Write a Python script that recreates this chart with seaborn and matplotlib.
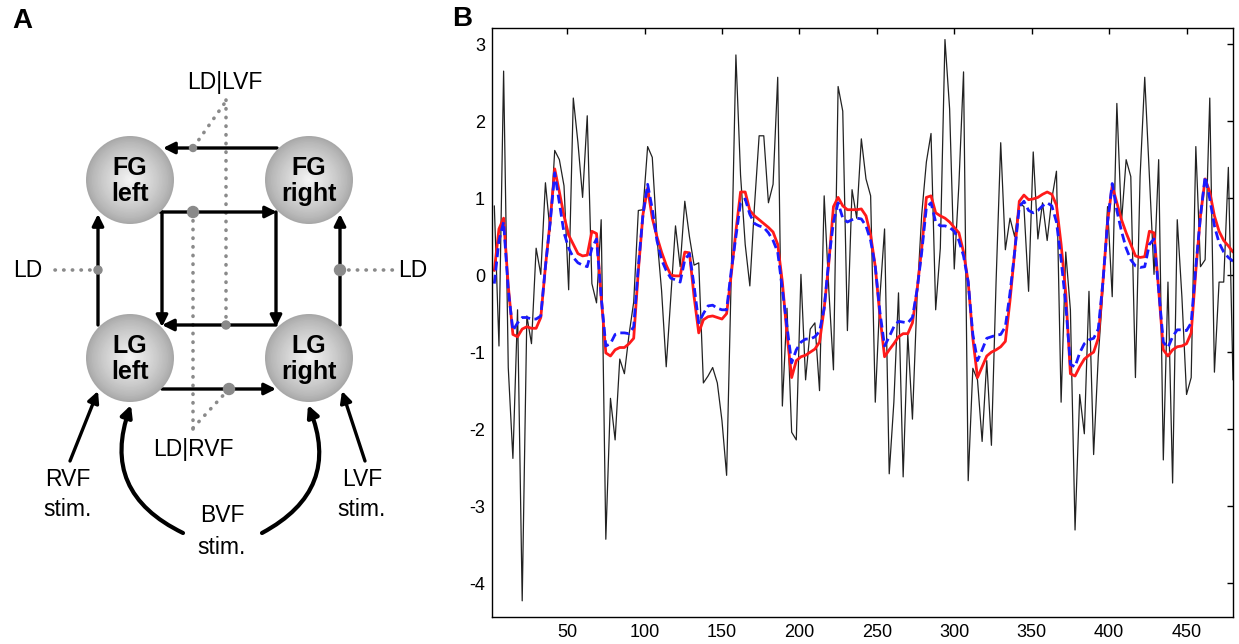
import numpy as np
import pandas as pd
import matplotlib
matplotlib.use("Agg")
import matplotlib.pyplot as plt
from matplotlib.patches import Circle, FancyArrowPatch
import seaborn as sns

# time axis: one sample every 3 units
time = np.arange(3, 481, 3)

measured = [
    0.90, -0.92, 2.65, -1.20, -2.38, -0.45, -4.23, -0.53, -0.89, 0.35,
    0.01, 1.20, 0.57, 1.62, 1.50, 1.16, -0.19, 2.30, 1.72, 1.01,
    2.07, -0.11, -0.36, 0.72, -3.43, -1.60, -2.14, -1.09, -1.28, -0.77,
    -0.35, 0.84, 0.85, 1.67, 1.53, 0.50, -0.20, -1.19, -0.28, 0.64,
    0.11, 0.96, 0.50, 0.13, 0.16, -1.40, -1.31, -1.20, -1.40, -1.89,
    -2.60, 0.00, 2.86, 1.30, 0.40, -0.14, 0.90, 1.81, 1.81, 0.94,
    1.18, 2.57, -1.70, -0.43, -2.04, -2.14, 0.01, -1.36, -0.70, -0.62,
    -1.50, 1.03, -0.19, -1.23, 2.45, 2.13, -0.72, 1.11, 0.74, 1.77,
    1.25, 1.03, -1.65, -0.28, 0.60, -2.58, -1.65, -0.23, -2.62, -0.77,
    -1.87, -0.28, 0.79, 1.47, 1.84, -0.45, 0.35, 3.06, 2.16, 0.08,
    1.18, 2.64, -2.67, -1.21, -1.36, -2.16, -1.11, -2.21, -0.09, 1.72,
    0.33, 0.74, 0.50, 0.94, 0.89, -0.21, 1.60, 0.47, 0.94, 0.45,
    0.99, 1.35, -1.65, 0.30, -0.45, -3.31, -1.55, -2.06, -0.21, -2.33,
    -1.06, -0.19, 0.89, -0.28, 2.23, 0.69, 1.50, 1.28, -1.33, 1.28,
    2.57, 1.28, 0.01, 1.50, -2.40, -0.09, -2.70, 0.72, -0.28, -1.55,
    -1.33, 1.67, 0.11, 0.20, 2.30, -1.26, -0.09, -0.09, 1.40, -1.36,
]

model_red = [
    0.06, 0.60, 0.74, -0.14, -0.77, -0.80, -0.70, -0.67, -0.69, -0.69,
    -0.55, 0.11, 0.69, 1.38, 1.08, 0.77, 0.52, 0.40, 0.28, 0.25,
    0.26, 0.57, 0.54, -0.28, -1.01, -1.05, -0.97, -0.94, -0.94, -0.89,
    -0.82, 0.06, 0.79, 1.13, 0.74, 0.50, 0.30, 0.13, 0.00, -0.01,
    -0.01, 0.30, 0.29, -0.28, -0.75, -0.58, -0.54, -0.53, -0.55, -0.57,
    -0.50, 0.01, 0.57, 1.08, 1.08, 0.84, 0.77, 0.72, 0.67, 0.62,
    0.56, 0.40, -0.09, -0.77, -1.33, -1.11, -1.06, -1.04, -1.00, -0.96,
    -0.87, -0.43, 0.16, 0.89, 1.01, 0.90, 0.85, 0.85, 0.85, 0.86,
    0.77, 0.52, 0.11, -0.53, -1.06, -0.97, -0.89, -0.80, -0.76, -0.76,
    -0.62, -0.19, 0.35, 1.01, 1.03, 0.81, 0.77, 0.74, 0.69, 0.62,
    0.55, 0.30, -0.09, -0.82, -1.33, -1.19, -1.05, -1.00, -0.97, -0.93,
    -0.86, -0.33, 0.30, 0.96, 1.04, 0.98, 0.99, 1.01, 1.05, 1.08,
    1.05, 0.91, 0.40, -0.23, -1.28, -1.31, -1.19, -1.09, -1.04, -1.00,
    -0.82, -0.09, 0.69, 1.16, 0.94, 0.72, 0.55, 0.40, 0.25, 0.23,
    0.24, 0.57, 0.55, -0.19, -0.97, -1.05, -0.97, -0.93, -0.92, -0.89,
    -0.75, 0.06, 0.77, 1.25, 1.08, 0.77, 0.57, 0.45, 0.38, 0.30,
]

model_blue = [
    -0.11, 0.45, 0.69, -0.19, -0.72, -0.62, -0.55, -0.55, -0.57, -0.57,
    -0.53, 0.11, 0.67, 1.33, 0.94, 0.55, 0.35, 0.23, 0.16, 0.13,
    0.11, 0.35, 0.47, -0.28, -0.92, -0.89, -0.77, -0.75, -0.75, -0.76,
    -0.67, 0.11, 0.79, 1.18, 0.86, 0.45, 0.20, 0.06, -0.04, -0.06,
    -0.09, 0.20, 0.28, -0.14, -0.62, -0.50, -0.40, -0.39, -0.43, -0.45,
    -0.45, 0.06, 0.50, 0.94, 0.99, 0.79, 0.67, 0.64, 0.62, 0.55,
    0.45, 0.30, -0.19, -0.67, -1.14, -0.97, -0.87, -0.83, -0.83, -0.80,
    -0.73, -0.43, 0.20, 0.69, 0.94, 0.74, 0.69, 0.72, 0.74, 0.73,
    0.64, 0.45, 0.11, -0.48, -0.92, -0.80, -0.67, -0.60, -0.61, -0.62,
    -0.55, -0.19, 0.30, 0.88, 0.94, 0.69, 0.64, 0.64, 0.62, 0.57,
    0.45, 0.25, -0.09, -0.77, -1.11, -0.97, -0.82, -0.80, -0.78, -0.77,
    -0.67, -0.23, 0.30, 0.89, 0.96, 0.84, 0.81, 0.84, 0.90, 0.94,
    0.90, 0.69, 0.20, -0.38, -1.16, -1.19, -1.01, -0.89, -0.84, -0.82,
    -0.70, -0.09, 0.69, 1.19, 0.84, 0.57, 0.35, 0.20, 0.12, 0.10,
    0.11, 0.40, 0.47, -0.19, -0.87, -0.94, -0.80, -0.71, -0.71, -0.72,
    -0.62, 0.11, 0.77, 1.28, 0.99, 0.64, 0.42, 0.30, 0.23, 0.18,
]

x_ticks = [50, 100, 150, 200, 250, 300, 350, 400, 450]
y_ticks = [-4, -3, -2, -1, 0, 1, 2, 3]

# diagram nodes (panel A)
nodes = {"FG\nleft": (130, 180), "FG\nright": (309, 180),
         "LG\nleft": (130, 358), "LG\nright": (309, 358)}

sns.set_style("white")
plt.rcParams["font.family"] = ["Liberation Sans", "DejaVu Sans"]
plt.rcParams["axes.unicode_minus"] = False
plt.rcParams["text.color"] = "black"
plt.rcParams["xtick.color"] = "black"
plt.rcParams["ytick.color"] = "black"

fig = plt.figure(figsize=(12.39, 6.44), dpi=100)

# ---------------- panel A: network diagram ----------------
axA = fig.add_axes([0, 0, 480 / 1239, 1])
axA.set_xlim(0, 480)
axA.set_ylim(644, 0)
axA.axis("off")

grey = "#8a8a8a"
dot_style = dict(color=grey, lw=2.6, linestyle=(0, (0.1, 2.3)),
                 dash_capstyle="round", zorder=2)

# dotted modulation lines
axA.plot([226, 226], [100, 325], **dot_style)
axA.plot([224, 193], [104, 148], **dot_style)
axA.plot([193, 193], [212, 432], **dot_style)
axA.plot([193, 229], [428, 389], **dot_style)
axA.plot([55, 98], [270, 270], **dot_style)
axA.plot([340, 396], [270, 270], **dot_style)


def arrow(p0, p1, rad=0.0, lw=2.4):
    a = FancyArrowPatch(p0, p1, arrowstyle="-|>", mutation_scale=17,
                        lw=lw, color="black", shrinkA=0, shrinkB=0,
                        connectionstyle=f"arc3,rad={rad}", zorder=3)
    axA.add_patch(a)


arrow((277, 148), (163, 148))
arrow((160, 212), (277, 212))
arrow((162, 212), (162, 327))
arrow((276, 212), (276, 327))
arrow((276, 325), (162, 325))
arrow((162, 389), (276, 389))
arrow((98, 325), (98, 214))
arrow((340, 325), (340, 214))
arrow((70, 461), (98, 391))
arrow((365, 461), (342, 391))
arrow((183, 533), (131, 405), rad=-0.45, lw=3)
arrow((262, 533), (308, 405), rad=0.45, lw=3)

# grey junction dots
for (cx, cy, r) in [(193, 148, 3.5), (193, 212, 5.5), (98, 270, 4),
                    (340, 270, 5.5), (226, 325, 4), (229, 389, 5.5)]:
    axA.add_patch(Circle((cx, cy), r, color=grey, zorder=4))

# shaded nodes
for label, (cx, cy) in nodes.items():
    n = 30
    for i in range(n):
        frac = i / n
        shade = 0.66 + 0.30 * frac ** 0.8
        axA.add_patch(Circle((cx, cy), 44 * (1 - frac), color=(shade, shade, shade),
                             lw=0, zorder=5 + i * 0.01))
    axA.text(cx, cy + 1, label, ha="center", va="center", fontsize=18,
             fontweight="bold", linespacing=1.08, zorder=7)

txt = dict(ha="center", va="center", fontsize=16.5)
axA.text(225, 82, "LD|LVF", **txt)
axA.text(193, 449, "LD|RVF", **txt)
axA.text(28, 270, "LD", **txt)
axA.text(413, 270, "LD", **txt)
axA.text(68, 479, "RVF", **txt)
axA.text(68, 510, "stim.", **txt)
axA.text(362, 479, "LVF", **txt)
axA.text(362, 510, "stim.", **txt)
axA.text(222, 515, "BVF", **txt)
axA.text(222, 547, "stim.", **txt)
axA.text(22, 21, "A", ha="center", va="center", fontsize=20, fontweight="bold")
axA.text(462, 19, "B", ha="center", va="center", fontsize=20, fontweight="bold")

# ---------------- panel B: time series ----------------
axB = fig.add_axes([492 / 1239, 27 / 644, 741 / 1239, 589 / 644])
df = pd.DataFrame({"time": time, "measured": measured,
                   "red": model_red, "blue": model_blue})

sns.lineplot(data=df, x="time", y="measured", ax=axB, color="#222222",
             lw=0.9, estimator=None)
sns.lineplot(data=df, x="time", y="red", ax=axB, color="#ff1a1a",
             lw=2.0, estimator=None)
sns.lineplot(data=df, x="time", y="blue", ax=axB, color="#1a1aff",
             lw=2.0, linestyle=(0, (3.2, 1.6)), estimator=None)

axB.set_xlim(1.5, 480)
axB.set_ylim(-4.44, 3.21)
axB.set_xticks(x_ticks)
axB.set_yticks(y_ticks)
axB.set_xlabel("")
axB.set_ylabel("")
axB.tick_params(direction="in", length=4, width=1, top=True, right=True,
                labelsize=13, colors="black", pad=5)
for sp in axB.spines.values():
    sp.set_color("black")
    sp.set_linewidth(1.0)

fig.savefig("out.png", dpi=100)
